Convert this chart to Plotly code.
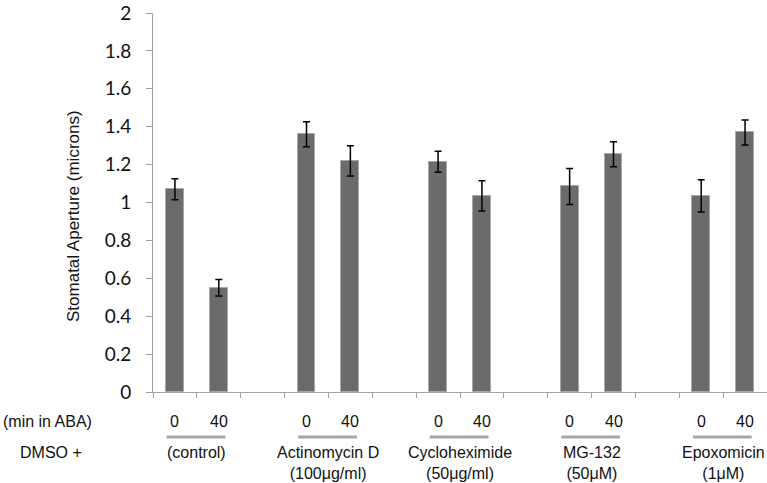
import plotly.graph_objects as go

# ---- data ----
groups = ["(control)", "Actinomycin D<br>(100μg/ml)", "Cycloheximide<br>(50μg/ml)",
          "MG-132<br>(50μM)", "Epoxomicin<br>(1μM)"]
times = ["0", "40"]
means_0 = [1.07, 1.36, 1.215, 1.085, 1.035]
means_40 = [0.55, 1.22, 1.035, 1.255, 1.37]
err_0 = [0.055, 0.066, 0.056, 0.095, 0.085]
err_40 = [0.044, 0.08, 0.08, 0.066, 0.066]
y_ticks = [0, 0.2, 0.4, 0.6, 0.8, 1, 1.2, 1.4, 1.6, 1.8, 2]

W, H = 767, 483
ML, MR, MT, MB = 153, 0, 13, 91
plot_h = H - MT - MB
plot_w = W - ML - MR

def py(pixel_y):
    return (H - MB - pixel_y) / plot_h

def px(pixel_x):
    return (pixel_x - ML) / plot_w

x0 = [g * 3 for g in range(len(groups))]
x40 = [g * 3 + 1 for g in range(len(groups))]

bar_color = "#6b6b6b"
fig = go.Figure()
for xs, ys, es in [(x0, means_0, err_0), (x40, means_40, err_40)]:
    fig.add_trace(go.Bar(
        x=xs, y=ys, width=0.41,
        marker=dict(color=bar_color, line=dict(color="#a8a8a8", width=1)),
        error_y=dict(type="data", array=es, color="black", thickness=1.5, width=3.5),
        showlegend=False,
    ))

annotations = []
shapes = []
label_font = dict(family="Liberation Sans, Arial, sans-serif", size=16, color="#111111")
for g, name in enumerate(groups):
    for t, lab in enumerate(times):
        annotations.append(dict(x=g * 3 + t, y=py(421), xref="x", yref="paper",
                                text=lab, showarrow=False, font=label_font,
                                xanchor="center", yanchor="middle"))
    annotations.append(dict(x=g * 3 + 0.5, y=py(442), xref="x", yref="paper",
                            text=name, showarrow=False, font=label_font,
                            xanchor="center", yanchor="top"))
    shapes.append(dict(type="line", xref="x", yref="paper",
                       x0=g * 3 - 0.19, x1=g * 3 + 1.15, y0=py(437), y1=py(437),
                       line=dict(color="#a6a6a6", width=3)))

annotations.append(dict(x=px(1), y=py(421), xref="paper", yref="paper",
                        text="(min in ABA)", showarrow=False, font=label_font,
                        xanchor="left", yanchor="middle"))
annotations.append(dict(x=px(18), y=py(452), xref="paper", yref="paper",
                        text="DMSO +", showarrow=False, font=label_font,
                        xanchor="left", yanchor="middle"))
annotations.append(dict(x=px(73), y=py(216), xref="paper", yref="paper",
                        text="Stomatal Aperture (microns)", showarrow=False,
                        textangle=-90, font=dict(family="Liberation Sans, Arial, sans-serif",
                                                 size=17, color="#111111"),
                        xanchor="center", yanchor="middle"))

fig.update_layout(
    width=W, height=H,
    margin=dict(l=ML, r=MR, t=MT, b=MB, pad=0),
    plot_bgcolor="white", paper_bgcolor="white",
    bargap=0,
    annotations=annotations, shapes=shapes,
)
fig.update_xaxes(range=[-0.5, 13.5], tickvals=[i - 0.5 for i in range(15)],
                 ticktext=[""] * 15, ticks="outside", ticklen=5, tickcolor="#a0a0a0",
                 showline=True, linecolor="#a0a0a0", linewidth=1, showgrid=False,
                 zeroline=False)
fig.update_yaxes(range=[0, 2], tickvals=y_ticks, ticktext=[f"{v:g}" for v in y_ticks],
                 ticks="outside", ticklen=6, tickcolor="#a0a0a0",
                 showline=True, linecolor="#a0a0a0", linewidth=1, showgrid=False,
                 zeroline=False, ticklabelstandoff=11,
                 tickfont=dict(family="Lato, Open Sans, sans-serif", size=19, color="#111111"))

fig.write_html("out.html", config={"displayModeBar": False},
               post_script="document.body.style.margin='0';")
